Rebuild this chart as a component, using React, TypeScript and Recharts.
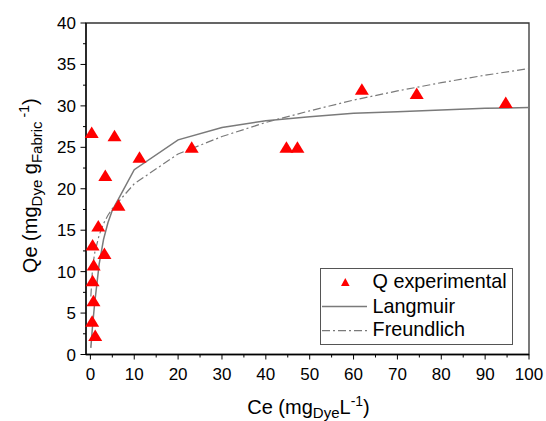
import React from 'react'
import { ComposedChart, XAxis, YAxis, Line, Scatter, ReferenceArea, Legend, Label } from 'recharts'

// experimental points
const expCe = [0.3, 5.5, 11.2, 3.4, 6.4, 23.1, 1.8, 0.5, 3.2, 0.75, 0.5, 0.7, 0.4, 1.1, 44.7, 47.2, 61.9, 74.4, 94.7]
const expQe = [26.8, 26.4, 23.8, 21.6, 18.0, 25.0, 15.5, 13.2, 12.2, 10.8, 8.9, 6.5, 4.0, 2.3, 25.0, 25.0, 32.0, 31.5, 30.4]

// model curves
const langCe = [0.1, 0.5, 1, 2, 3, 4, 5, 10, 20, 30, 40, 50, 60, 70, 80, 90, 100]
const langQe = [0.8, 3.5, 6.3, 10.9, 13.9, 15.9, 17.4, 22.3, 25.9, 27.4, 28.2, 28.7, 29.1, 29.3, 29.5, 29.7, 29.8]
const freCe = [0.1, 0.5, 1, 2, 3, 4, 5, 10, 20, 30, 40, 50, 60, 70, 80, 90, 100]
const freQe = [7.0, 10.5, 12.3, 14.4, 15.8, 16.8, 17.6, 20.6, 24.2, 26.3, 28.0, 29.4, 30.7, 31.8, 32.8, 33.7, 34.5]

const xTicks = [0, 5, 10, 15, 20, 25, 30, 35, 40, 45, 50, 55, 60, 65, 70, 75, 80, 85, 90, 95, 100]
const yTicks = [0, 2.5, 5, 7.5, 10, 12.5, 15, 17.5, 20, 22.5, 25, 27.5, 30, 32.5, 35, 37.5, 40]

const expData = expCe.map((x, i) => ({ x, y: expQe[i] }))
const langData = langCe.map((x, i) => ({ x, y: langQe[i] }))
const freData = freCe.map((x, i) => ({ x, y: freQe[i] }))

const FONT = '"Liberation Sans", Arial, sans-serif'
const GREY = '#7a7a7a'

const XTick = (props: any) => {
  const { x, y, payload } = props
  const major = payload.value % 10 === 0
  return (
    <g>
      <line x1={x} x2={x} y1={y} y2={y + (major ? 5 : 3)} stroke="#000" />
      {major && (
        <text x={x} y={y + 25.5} textAnchor="middle" fontSize={17} fontFamily={FONT} fill="#000">
          {payload.value}
        </text>
      )}
    </g>
  )
}

const YTick = (props: any) => {
  const { x, y, payload } = props
  const major = payload.value % 5 === 0
  return (
    <g>
      <line x1={x - (major ? 5.5 : 3)} x2={x} y1={y} y2={y} stroke="#000" />
      {major && (
        <text x={x - 10} y={y + 6} textAnchor="end" fontSize={17} fontFamily={FONT} fill="#000">
          {payload.value}
        </text>
      )}
    </g>
  )
}

const XTitle = (props: any) => {
  const vb = props.viewBox
  return (
    <text x={vb.x + vb.width / 2 + 1} y={vb.y + 59} textAnchor="middle" fontSize={20} fontFamily={FONT} fill="#000">
      Ce (mg
      <tspan fontSize={15} dy={4}>Dye</tspan>
      <tspan dy={-4}>L</tspan>
      <tspan fontSize={14} dy={-8}>-1</tspan>
      <tspan dy={8}>)</tspan>
    </text>
  )
}

const YTitle = (props: any) => {
  const vb = props.viewBox
  const cx = vb.x + vb.width - 49
  const cy = vb.y + vb.height / 2 - 3
  return (
    <text x={cx} y={cy} transform={`rotate(-90 ${cx} ${cy})`} textAnchor="middle" fontSize={20} fontFamily={FONT} fill="#000">
      Qe (mg
      <tspan fontSize={15} dy={5}>Dye</tspan>
      <tspan dy={-5}> g</tspan>
      <tspan fontSize={15} dy={5}>Fabric</tspan>
      <tspan fontSize={14} dy={-13}>  -1</tspan>
      <tspan dy={8}>)</tspan>
    </text>
  )
}

const Triangle = (props: any) => {
  const { cx, cy } = props
  if (cx == null || cy == null) return null
  return <polygon points={`${cx},${cy - 6} ${cx - 7},${cy + 5.5} ${cx + 7},${cy + 5.5}`} fill="#ff0000" />
}

const LegendBox = () => (
  <svg width={193} height={77} style={{ display: 'block' }}>
    <rect x={0.5} y={0.5} width={192} height={76} fill="#fff" stroke="#555" />
    <polygon points="25.3,10 21,18 29.6,18" fill="#ff0000" />
    <text x={52.6} y={20} fontSize={19.8} fontFamily={FONT} fill="#000">Q experimental</text>
    <line x1={2} x2={47} y1={38.4} y2={38.4} stroke={GREY} strokeWidth={1.5} />
    <text x={52.6} y={44.7} fontSize={19.8} fontFamily={FONT} fill="#000">Langmuir</text>
    <line x1={2} x2={47} y1={62.7} y2={62.7} stroke={GREY} strokeWidth={1.2} strokeDasharray="8 3 2 3" />
    <text x={52.6} y={68.4} fontSize={19.8} fontFamily={FONT} fill="#000">Freundlich</text>
  </svg>
)

export default function App() {
  return (
    <div style={{ position: 'absolute', left: 0, top: 0, background: '#fff' }}>
      <ComposedChart width={546} height={421} margin={{ top: 23, right: 17, bottom: 0, left: 0 }}>
        <XAxis
          type="number"
          dataKey="x"
          domain={[-1, 100]}
          ticks={xTicks}
          interval={0}
          tickSize={0}
          tickMargin={0}
          tickLine={false}
          tick={<XTick />}
          height={66.5}
          axisLine={{ stroke: '#000', strokeWidth: 1.3 }}
        >
          <Label content={<XTitle />} />
        </XAxis>
        <YAxis
          type="number"
          dataKey="y"
          domain={[0, 40]}
          ticks={yTicks}
          interval={0}
          tickSize={0}
          tickMargin={0}
          tickLine={false}
          tick={<YTick />}
          width={86}
          axisLine={{ stroke: '#000', strokeWidth: 1.3 }}
        >
          <Label content={<YTitle />} />
        </YAxis>
        <ReferenceArea x1={-1} x2={100} y1={0} y2={40} fill="none" stroke="#333" strokeWidth={1.3} />
        <Line data={langData} dataKey="y" type="linear" stroke={GREY} strokeWidth={1.5} dot={false} isAnimationActive={false} />
        <Line data={freData} dataKey="y" type="linear" stroke={GREY} strokeWidth={1.2} strokeDasharray="8 3 2 3" dot={false} isAnimationActive={false} />
        <Scatter data={expData} dataKey="y" shape={<Triangle />} isAnimationActive={false} />
        <Legend
          layout="vertical"
          align="center"
          verticalAlign="middle"
          content={<LegendBox />}
          wrapperStyle={{ left: 320, top: 268, width: 193, height: 77 }}
        />
      </ComposedChart>
    </div>
  )
}
